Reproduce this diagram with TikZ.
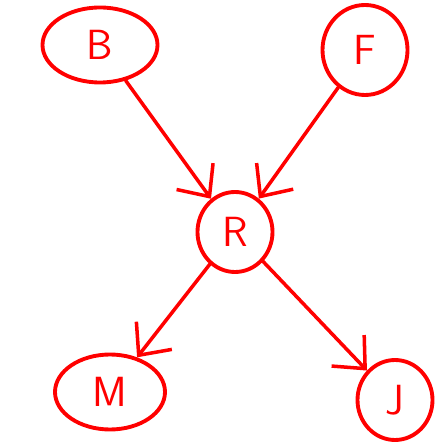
\documentclass[tikz,border=0pt]{standalone}
\usepackage{tikz}
\usetikzlibrary{shapes.geometric, arrows.meta, positioning}
\tikzset{
    var/.style={ellipse, draw=red, line width=2.2pt, text=red, inner sep=0pt, font=\fontsize{24}{28}\sffamily},
    arrow/.style={draw=red, line width=2pt, line cap=round, -{Straight Barb[length=5mm, width=9mm, line width=2pt]}}
}
\begin{document}
\begin{tikzpicture}
    \useasboundingbox (0,0) rectangle (8.7,8.84);
    \node (b) [var, minimum width=2.3cm, minimum height=1.5cm] at (2.0,7.94) {B};
    \node (f) [var, minimum width=1.7cm, minimum height=1.8cm] at (7.3,7.84) {F};
    \node (r) [var, minimum width=1.5cm, minimum height=1.6cm] at (4.7,4.2) {R};
    \node (m) [var, minimum width=2.2cm, minimum height=1.5cm] at (2.2,1.0) {M};
    \node (j) [var, minimum width=1.5cm, minimum height=1.6cm] at (7.9,0.84) {J};

    \draw [arrow] (b) -- (r);
    \draw [arrow] (f) -- (r);
    \draw [arrow] (r) -- (m);
    \draw [arrow] (r) -- (j);
\end{tikzpicture}
\end{document}
